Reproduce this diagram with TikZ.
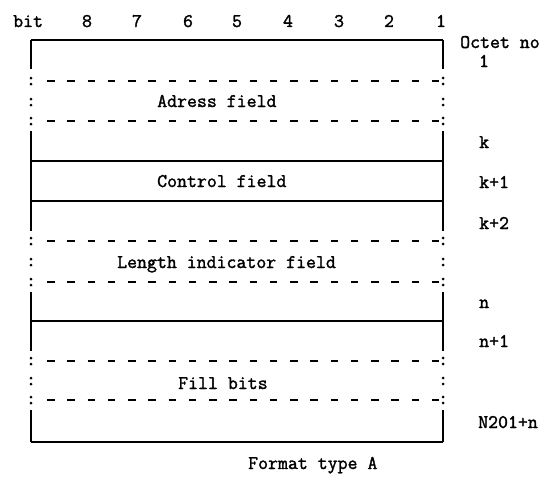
\documentclass[tikz,border=0pt]{standalone}
\usepackage{fontspec}
\newfontfamily\tw[FakeBold=1.6]{Latin Modern Mono}
\begin{document}
\begin{tikzpicture}[x=1pt,y=-1pt,
  lbl/.style={font=\tw\fontsize{19.3}{22}\selectfont, inner sep=0pt},
  frameline/.style={line width=1.6pt},
  dashline/.style={line width=1.8pt, dash pattern=on 7.5pt off 12.75pt},
  colondot/.style={circle, fill=black, inner sep=0pt, minimum size=3pt}]
\useasboundingbox (0,0) rectangle (557,479);
% header
\node[lbl, anchor=base west] (bit) at (13,27) {bit};
\foreach \d/\xx in {8/87,7/137,6/188,5/237,4/288,3/339,2/389,1/441}
  \node[lbl, anchor=base] (h\d) at (\xx,27) {\d};
% frame corners
\coordinate (TL) at (31,40);
\coordinate (TR) at (443,40);
\coordinate (BL) at (31,442);
\coordinate (BR) at (443,442);
% solid horizontals
\draw[frameline] (TL) -- (TR);
\draw[frameline] (31,161) -- (443,161);
\draw[frameline] (31,201) -- (443,201);
\draw[frameline] (31,321) -- (443,321);
\draw[frameline] (BL) -- (BR);
% vertical segments
\foreach \xx in {31,443} {
  \draw[frameline] (\xx,40) -- (\xx,69);
  \draw[frameline] (\xx,131) -- (\xx,231);
  \draw[frameline] (\xx,292) -- (\xx,351);
  \draw[frameline] (\xx,410) -- (\xx,442);
  \foreach \yy in {81,102,121,241,262,282,361,381,400} {
    \node[colondot] at (\xx,\yy-3) {};
    \node[colondot] at (\xx,\yy+3) {};
  }
}
% dashed lines
\foreach \yy in {81,121,241,282,361,400}
  \draw[dashline] (47,\yy) -- (441,\yy);
% field texts
\node[lbl, anchor=base west] (adr) at (157,107) {Adress field};
\node[lbl, anchor=base west] (ctl) at (157,187) {Control field};
\node[lbl, anchor=base west] (len) at (117,268) {Length indicator field};
\node[lbl, anchor=base west] (fill) at (178,389) {Fill bits};
% octet labels
\node[lbl, anchor=base west] (oct) at (460,48) {Octet no};
\node[lbl, anchor=base] (o1) at (484,67) {1};
\node[lbl, anchor=base west] (ok) at (479,148) {k};
\node[lbl, anchor=base west] (ok1) at (479,188) {k+1};
\node[lbl, anchor=base west] (ok2) at (479,229) {k+2};
\node[lbl, anchor=base west] (on) at (479,308) {n};
\node[lbl, anchor=base west] (on1) at (479,347) {n+1};
\node[lbl, anchor=base west] (oN) at (478,428) {N201+n};
% caption
\node[lbl, anchor=base west] (cap) at (248,469) {Format type A};
\end{tikzpicture}
\end{document}
